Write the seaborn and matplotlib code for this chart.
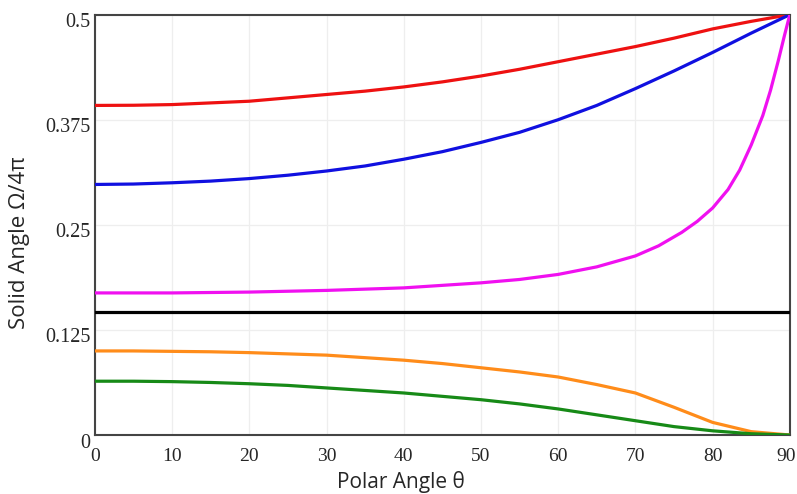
import numpy as np
import pandas as pd
import matplotlib
matplotlib.use("Agg")
import matplotlib.pyplot as plt
import matplotlib.transforms as mtransforms
import seaborn as sns

# values
theta = [0, 5, 10, 15, 20, 25, 30, 35, 40, 45, 50, 55, 60, 65, 70, 75, 80, 85, 90]
red = [0.392, 0.3922, 0.393, 0.395, 0.397, 0.401, 0.405, 0.409, 0.414, 0.420, 0.427,
       0.435, 0.444, 0.453, 0.462, 0.472, 0.483, 0.492, 0.5]
blue = [0.298, 0.2985, 0.300, 0.302, 0.305, 0.309, 0.314, 0.320, 0.328, 0.337, 0.348,
        0.360, 0.375, 0.392, 0.412, 0.433, 0.455, 0.478, 0.5]
orange = [0.100, 0.100, 0.0995, 0.099, 0.098, 0.0965, 0.095, 0.092, 0.089, 0.085, 0.080,
          0.075, 0.069, 0.060, 0.050, 0.033, 0.015, 0.004, 0.0]
green = [0.064, 0.064, 0.0635, 0.0625, 0.061, 0.059, 0.056, 0.053, 0.050, 0.046, 0.042,
         0.037, 0.031, 0.024, 0.017, 0.010, 0.005, 0.0015, 0.0]

theta_m = [0, 10, 20, 30, 40, 50, 55, 60, 65, 70, 73, 76, 78, 80, 82, 83.5, 85, 86.5, 87.5, 88.5, 89.3, 90]
magenta = [0.169, 0.169, 0.170, 0.172, 0.175, 0.181, 0.185, 0.191, 0.200, 0.213, 0.225,
           0.241, 0.254, 0.270, 0.292, 0.315, 0.345, 0.380, 0.410, 0.445, 0.475, 0.5]

threshold = 0.146

series = [
    (theta, red, "#ee1111"),
    (theta, blue, "#1010e0"),
    (theta_m, magenta, "#f010f0"),
    (theta, orange, "#ff8c1a"),
    (theta, green, "#178a17"),
]

sns.set_style("white")
fig = plt.figure(figsize=(7.97, 4.94), dpi=100)
ax = fig.add_axes([0.119, 0.1194, 0.872, 0.851])

for xs, ys, col in series:
    df = pd.DataFrame({"theta": xs, "omega": ys})
    sns.lineplot(data=df, x="theta", y="omega", color=col, lw=2.3, ax=ax, zorder=3)

ax.axhline(threshold, color="black", lw=2.3, zorder=3)

ax.set_xlim(0, 90)
ax.set_ylim(0, 0.5)
ax.set_xticks(np.arange(0, 91, 10))
ax.set_yticks([0, 0.125, 0.25, 0.375, 0.5])
ax.set_yticklabels(["0", "0.125", "0.25", "0.375", "0.5"])
ax.grid(True, color="#eeeeee", lw=0.9)
ax.tick_params(axis="x", length=0, pad=9, labelsize=14)
ax.tick_params(axis="y", length=0, pad=3, labelsize=14.5)
for lab in ax.get_xticklabels() + ax.get_yticklabels():
    lab.set_family("Liberation Serif")
# y tick labels sit a little below their ticks in the reference
shift = mtransforms.ScaledTranslation(0, -4 / 72, fig.dpi_scale_trans)
for lab in ax.get_yticklabels():
    lab.set_transform(lab.get_transform() + shift)
# keep the last x label inside the figure
last = ax.get_xticklabels()[-1]
last.set_transform(last.get_transform() + mtransforms.ScaledTranslation(-3 / 72, 0, fig.dpi_scale_trans))
for sp in ax.spines.values():
    sp.set_color("#444444")
    sp.set_linewidth(1.5)

ax.set_xlabel("Polar Angle θ", fontsize=15, family="Open Sans")
ax.xaxis.set_label_coords(0.44, -0.086)
ax.set_ylabel("Solid Angle Ω/4π", fontsize=16, family="Open Sans")
ax.yaxis.set_label_coords(-0.094, 0.457)

fig.savefig("out.png", dpi=100)
